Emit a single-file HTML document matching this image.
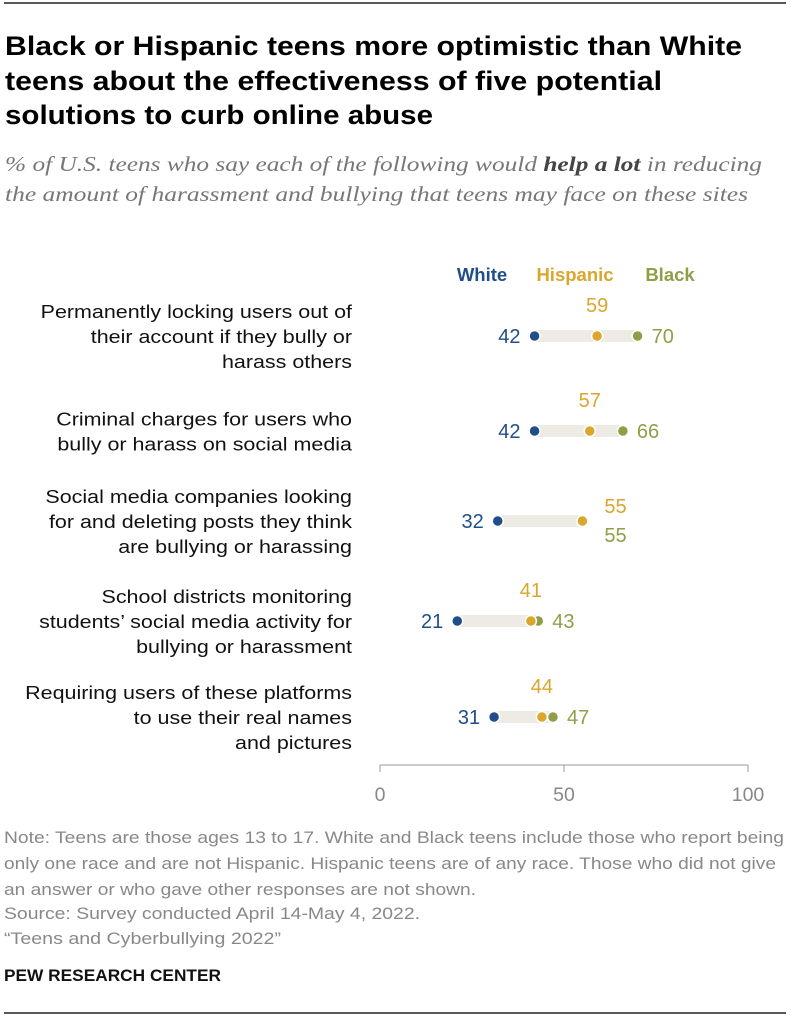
<!DOCTYPE html>
<html><head><meta charset="utf-8"><style>
body{margin:0;background:#fff;width:794px;height:1024px;overflow:hidden;font-family:"Liberation Sans",sans-serif;}
svg{display:block}
</style></head><body>
<svg width="794" height="1024">
<line x1="4" y1="3" x2="786" y2="3" stroke="#222" stroke-width="1.5"/>
<g font-weight="bold" font-size="27" fill="#000" lengthAdjust="spacingAndGlyphs">
<text x="5" y="55" textLength="737" lengthAdjust="spacingAndGlyphs">Black or Hispanic teens more optimistic than White</text>
<text x="5" y="90" textLength="657" lengthAdjust="spacingAndGlyphs">teens about the effectiveness of five potential</text>
<text x="5" y="124" textLength="428" lengthAdjust="spacingAndGlyphs">solutions to curb online abuse</text></g>
<g font-family="Liberation Serif" font-style="italic" font-size="21" fill="#777">
<text x="5" y="171" textLength="757" lengthAdjust="spacingAndGlyphs">% of U.S. teens who say each of the following would <tspan font-weight="bold" fill="#444">help a lot</tspan> in reducing</text>
<text x="5" y="201" textLength="743" lengthAdjust="spacingAndGlyphs">the amount of harassment and bullying that teens may face on these sites</text></g>
<g font-weight="bold" font-size="18.5" text-anchor="middle">
<text x="482" y="281" fill="#1f4e89">White</text>
<text x="575" y="281" fill="#d9a62e">Hispanic</text>
<text x="670" y="281" fill="#8f9f48">Black</text></g>
<g id="rows"></g>
<g id="axis"></g>
<g font-size="16.5" fill="#888">
<text x="4" y="843" textLength="780" lengthAdjust="spacingAndGlyphs">Note: Teens are those ages 13 to 17. White and Black teens include those who report being</text>
<text x="4" y="869" textLength="772" lengthAdjust="spacingAndGlyphs">only one race and are not Hispanic. Hispanic teens are of any race. Those who did not give</text>
<text x="4" y="895" textLength="472" lengthAdjust="spacingAndGlyphs">an answer or who gave other responses are not shown.</text>
<text x="4" y="919" textLength="416" lengthAdjust="spacingAndGlyphs">Source: Survey conducted April 14-May 4, 2022.</text>
<text x="4" y="944" textLength="277" lengthAdjust="spacingAndGlyphs">“Teens and Cyberbullying 2022”</text></g>
<text x="4" y="981" font-size="16.5" font-weight="bold" fill="#111" textLength="217" lengthAdjust="spacingAndGlyphs">PEW RESEARCH CENTER</text>
<line x1="4" y1="1013" x2="786" y2="1013" stroke="#222" stroke-width="1.5"/>
</svg>
<script>
const categories=[["Permanently locking users out of","their account if they bully or","harass others"],["Criminal charges for users who","bully or harass on social media"],["Social media companies looking","for and deleting posts they think","are bullying or harassing"],["School districts monitoring","students’ social media activity for","bullying or harassment"],["Requiring users of these platforms","to use their real names","and pictures"]];
const white=[42,42,32,21,31];
const hispanic=[59,57,55,41,44];
const black=[70,66,55,43,47];
const ticks=[0,50,100];
const NS="http://www.w3.org/2000/svg";
const x=v=>380+v*3.68;
const rowY=[336,431,521,621,717];
function mk(t,a,p){const e=document.createElementNS(NS,t);for(const k in a)e.setAttribute(k,a[k]);p.appendChild(e);return e;}
const rows=document.getElementById('rows');
const C={w:"#1f4e89",h:"#d9a62e",b:"#8f9f48"};
categories.forEach((lab,i)=>{
 const y=rowY[i];
 const g=mk('g',{},rows);
 
 
 const n=lab.length, y0=y+7-(n-1)*12.5;
 lab.forEach((l,j)=>{const t=mk('text',{x:352,y:y0+j*25,'text-anchor':'end','font-size':18.5,fill:'#111'},g);t.textContent=l;
  
  
  const w=t.getComputedTextLength();t.setAttribute('textLength',w*1.16);t.setAttribute('lengthAdjust','spacingAndGlyphs');});
 const lo=Math.min(white[i],hispanic[i],black[i]),hi=Math.max(white[i],hispanic[i],black[i]);
 const bar=mk('rect',{x:x(lo),y:y-6,width:x(hi)-x(lo),height:12,fill:'#eeebe5'},g);
 
 
 [[white,C.w,'white-dot'],[black,C.b,'black-dot'],[hispanic,C.h,'hispanic-dot']].forEach(([arr,c,nm])=>{
  const d=mk('circle',{cx:x(arr[i]),cy:y,r:5.5,fill:c,stroke:'#fff','stroke-width':1.5},g);
  
  });
 const fs=20;
 const tw=mk('text',{x:x(white[i])-14,y:y+7,'text-anchor':'end','font-size':fs,fill:C.w},g);tw.textContent=white[i];
 
 
 let th,tb;
 if(hispanic[i]===black[i]){
  th=mk('text',{x:x(hispanic[i])+22,y:y-8,'font-size':fs,fill:C.h},g);
  tb=mk('text',{x:x(black[i])+22,y:y+21,'font-size':fs,fill:C.b},g);
 }else{
  th=mk('text',{x:x(hispanic[i]),y:y-24,'text-anchor':'middle','font-size':fs,fill:C.h},g);
  tb=mk('text',{x:x(black[i])+14,y:y+7,'font-size':fs,fill:C.b},g);
 }
 th.textContent=hispanic[i];tb.textContent=black[i];
 
 
 
 
});
const ax=document.getElementById('axis');
mk('line',{x1:x(0),y1:765,x2:x(100),y2:765,stroke:'#999'},ax);
ticks.forEach(t=>{mk('line',{x1:x(t),y1:765,x2:x(t),y2:772,stroke:'#999'},ax);
 const tl=mk('text',{x:x(t),y:801,'text-anchor':'middle','font-size':19.5,fill:'#888'},ax);tl.textContent=t;
 
 });
</script>
</body></html>
